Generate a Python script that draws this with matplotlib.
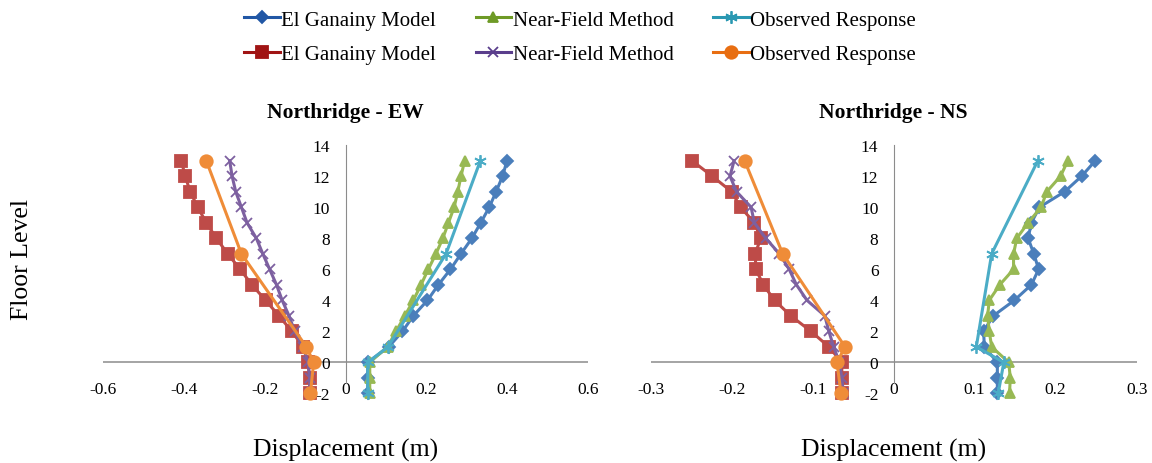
import matplotlib
matplotlib.use("Agg")
import matplotlib.pyplot as plt

plt.rcParams["font.family"] = ["Liberation Serif", "DejaVu Serif"]
plt.rcParams["axes.unicode_minus"] = False

# Floor levels (basement -2 up to roof 13)
floors = [-2, -1, 0, 1, 2, 3, 4, 5, 6, 7, 8, 9, 10, 11, 12, 13]
obs_floors = [-2, 0, 1, 7, 13]

# Northridge EW - displacements (m)
ew_ganainy_pos = [0.055, 0.055, 0.055, 0.107, 0.141, 0.168, 0.203, 0.230, 0.260, 0.286,
                  0.313, 0.335, 0.356, 0.373, 0.389, 0.400]
ew_nearfield_pos = [0.060, 0.060, 0.060, 0.104, 0.125, 0.147, 0.168, 0.187, 0.205, 0.224,
                    0.241, 0.255, 0.269, 0.278, 0.286, 0.295]
ew_observed_pos = [0.055, 0.055, 0.105, 0.249, 0.334]
ew_ganainy_neg = [-0.089, -0.089, -0.093, -0.105, -0.133, -0.165, -0.198, -0.232, -0.261,
                  -0.292, -0.320, -0.345, -0.366, -0.385, -0.397, -0.407]
ew_nearfield_neg = [-0.088, -0.089, -0.093, -0.105, -0.126, -0.140, -0.157, -0.171, -0.188,
                    -0.205, -0.221, -0.244, -0.258, -0.272, -0.281, -0.287]
ew_observed_neg = [-0.087, -0.079, -0.097, -0.258, -0.345]

# Northridge NS - displacements (m)
ns_ganainy_pos = [0.128, 0.128, 0.128, 0.112, 0.111, 0.123, 0.149, 0.170, 0.179, 0.173,
                  0.166, 0.170, 0.180, 0.211, 0.232, 0.249]
ns_nearfield_pos = [0.143, 0.144, 0.142, 0.121, 0.118, 0.116, 0.118, 0.131, 0.148, 0.148,
                    0.152, 0.166, 0.182, 0.189, 0.206, 0.215]
ns_observed_pos = [0.129, 0.136, 0.102, 0.121, 0.178]
ns_ganainy_neg = [-0.064, -0.064, -0.064, -0.080, -0.102, -0.127, -0.147, -0.161, -0.170,
                  -0.171, -0.164, -0.172, -0.189, -0.200, -0.224, -0.249]
ns_nearfield_neg = [-0.062, -0.064, -0.067, -0.074, -0.080, -0.085, -0.107, -0.120, -0.129,
                    -0.141, -0.158, -0.172, -0.176, -0.194, -0.202, -0.197]
ns_observed_neg = [-0.065, -0.070, -0.060, -0.137, -0.184]

labels = ["El Ganainy Model", "Near-Field Method", "Observed Response"]
yticks = [-2, 0, 2, 4, 6, 8, 10, 12, 14]
ew_xticks = [-0.6, -0.4, -0.2, 0, 0.2, 0.4, 0.6]
ns_xticks = [-0.3, -0.2, -0.1, 0, 0.1, 0.2, 0.3]

# Line styles: (color, marker, markersize, legend color)
styles = {
    "gan_pos": ("#4A7EBB", "D", 6, "#2157A5"),
    "nf_pos": ("#98B954", "^", 7.5, "#6E9A26"),
    "obs_pos": ("#4BACC6", (6, 2, 0), 9, "#2A98B2"),
    "gan_neg": ("#BE4B48", "s", 8, "#A01414"),
    "nf_neg": ("#7D60A0", "x", 7, "#5A3E8C"),
    "obs_neg": ("#EF8C38", "o", 9, "#E86E12"),
}
AXIS_GRAY = "#8C8C8C"


def draw(ax, series):
    handles = {}
    for key, x, y in series:
        c, m, ms, _ = styles[key]
        (ln,) = ax.plot(x, y, color=c, marker=m, markersize=ms, lw=2.2,
                        markeredgecolor=c, markeredgewidth=1.3, clip_on=False)
        handles[key] = ln
    return handles


def style_axes(ax, xticks, title):
    ax.set_xlim(xticks[0], xticks[-1])
    ax.set_ylim(-2, 14)
    ax.set_xticks(xticks)
    ax.set_xticklabels([("0" if v == 0 else f"{v:g}") for v in xticks])
    ax.set_yticks(yticks)
    for s in ["top", "right", "bottom"]:
        ax.spines[s].set_visible(False)
    ax.spines["left"].set_position(("data", 0))
    ax.spines["left"].set_color(AXIS_GRAY)
    ax.spines["left"].set_bounds(-1.3, 14)
    ax.axhline(0, color=AXIS_GRAY, lw=1.1, zorder=0.5)
    ax.tick_params(axis="both", length=0, labelsize=12.5)
    ax.tick_params(axis="y", pad=11)
    ax.tick_params(axis="x", pad=-3)
    for t in ax.get_xticklabels():
        t.set_va("center")
    ax.patch.set_alpha(0)
    ax.set_title(title, fontsize=15.5, fontweight="bold", pad=20)
    # axis label sits well below the tick labels
    ax.text(0.5, (0.030 - 0.150) / 0.535, "Displacement (m)", transform=ax.transAxes,
            fontsize=18.5, ha="center", va="center")


fig = plt.figure(figsize=(11.52, 4.64), dpi=100)
ax1 = fig.add_axes([0.0897, 0.150, 0.4205, 0.535])
ax2 = fig.add_axes([0.5648, 0.150, 0.4219, 0.535])

h1 = draw(ax1, [
    ("gan_pos", ew_ganainy_pos, floors),
    ("nf_pos", ew_nearfield_pos, floors),
    ("obs_pos", ew_observed_pos, obs_floors),
    ("gan_neg", ew_ganainy_neg, floors),
    ("nf_neg", ew_nearfield_neg, floors),
    ("obs_neg", ew_observed_neg, obs_floors),
])
draw(ax2, [
    ("gan_pos", ns_ganainy_pos, floors),
    ("nf_pos", ns_nearfield_pos, floors),
    ("obs_pos", ns_observed_pos, obs_floors),
    ("gan_neg", ns_ganainy_neg, floors),
    ("nf_neg", ns_nearfield_neg, floors),
    ("obs_neg", ns_observed_neg, obs_floors),
])

style_axes(ax1, ew_xticks, "Northridge - EW")
style_axes(ax2, ns_xticks, "Northridge - NS")

fig.text(0.019, 0.44, "Floor Level", rotation=90, fontsize=18.5, ha="center", va="center")

# legend: columns are filled first, so interleave the two rows
order = ["gan_pos", "gan_neg", "nf_pos", "nf_neg", "obs_pos", "obs_neg"]
leg_labels = [labels[0], labels[0], labels[1], labels[1], labels[2], labels[2]]
leg = fig.legend([h1[k] for k in order], leg_labels, loc="center",
                 bbox_to_anchor=(0.5035, 1 - 38 / 464), ncol=3, frameon=False,
                 fontsize=15, handlelength=1.7, handletextpad=0.08,
                 columnspacing=1.9, labelspacing=0.72)
for k, lh in zip(order, leg.legend_handles):
    lc = styles[k][3]
    lh.set_color(lc)
    lh.set_markeredgecolor(lc)
    lh.set_markerfacecolor(lc)

fig.savefig("out.png", dpi=100)
